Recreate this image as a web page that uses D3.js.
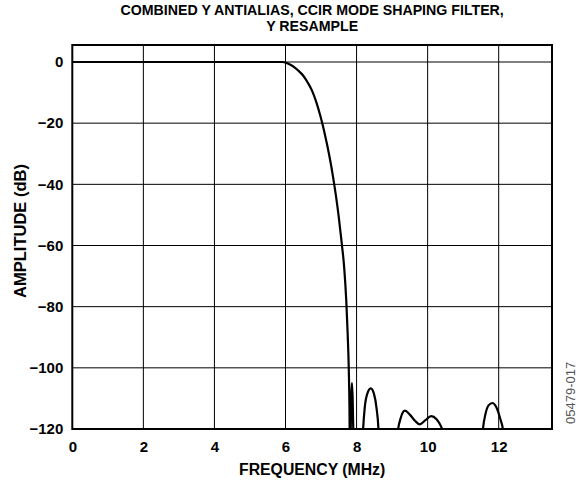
<!DOCTYPE html>
<html>
<head>
<meta charset="utf-8">
<script src="https://cdn.jsdelivr.net/npm/d3@7/dist/d3.min.js"></script>
<style>
  html, body { margin: 0; padding: 0; background: #fff; }
  svg { display: block; }
  text { font-family: "Liberation Sans", Arial, sans-serif; }
</style>
</head>
<body>
<svg id="chart" width="582" height="480"></svg>
<script>
// ---- data ----
const titleLines = ["COMBINED Y ANTIALIAS, CCIR MODE SHAPING FILTER,", "Y RESAMPLE"];
const xLabel = "FREQUENCY (MHz)";
const yLabel = "AMPLITUDE (dB)";
const sideNote = "05479-017";
const xTicks = [0, 2, 4, 6, 8, 10, 12];
const yTicks = [0, -20, -40, -60, -80, -100, -120];
const freqMHz = [
  0, 1, 2, 3, 4, 5, 5.6, 5.90, 6.05, 6.20, 6.35, 6.50, 6.62, 6.74, 6.86, 6.98, 7.08, 7.17, 7.26, 7.34,
  7.42, 7.50, 7.58, 7.65, 7.71, 7.75, 7.78, 7.80, 7.815,
  7.83, 7.85, 7.87, 7.89, 7.915, 7.93,
  8.12, 8.18, 8.23, 8.30, 8.40, 8.49, 8.56, 8.62, 8.67,
  9.10, 9.16, 9.24, 9.36, 9.50, 9.65, 9.78, 9.93, 10.10, 10.25, 10.37, 10.43, 10.48,
  11.48, 11.55, 11.63, 11.72, 11.82, 11.93, 12.04, 12.13, 12.18, 13.5
];
const amplitudeDb = [
  0, 0, 0, 0, 0, 0, 0, 0, -0.4, -1.3, -2.7, -4.5, -6.6, -9.2, -12.9, -17.6, -22.2, -27.0, -32.3, -37.7,
  -43.8, -50.8, -59.0, -67, -78, -89, -100, -113, -135,
  -125, -110, -105, -110, -125, -140,
  -140, -121, -113, -108.5, -106.7, -108.5, -113, -121, -140,
  -140, -121, -116.5, -114, -115.3, -117.4, -118.5, -117.2, -115.8, -116.8, -119, -121, -140,
  -140, -121, -115, -112.2, -111.5, -112.8, -116.5, -121, -140, -140
];

// ---- layout ----
const svg = d3.select("#chart");
const mLeft = 72.3, mRight = 552, mTop = 45, mBottom = 429;
const x = d3.scaleLinear().domain([0, 13.5]).range([mLeft, mRight]);
const y = d3.scaleLinear().domain([-120, 5.56]).range([mBottom, mTop]);

// grid
const g = svg.append("g");
g.selectAll("line.vg").data(xTicks.filter(d => d > 0)).join("line")
  .attr("x1", d => x(d)).attr("x2", d => x(d))
  .attr("y1", mTop).attr("y2", mBottom)
  .attr("stroke", "#000").attr("stroke-width", 1);
g.selectAll("line.hg").data(yTicks.filter(d => d > -120)).join("line")
  .attr("x1", mLeft).attr("x2", mRight)
  .attr("y1", d => y(d)).attr("y2", d => y(d))
  .attr("stroke", "#000").attr("stroke-width", 1);

// clip
svg.append("clipPath").attr("id", "clip").append("rect")
  .attr("x", mLeft).attr("y", mTop).attr("width", mRight - mLeft).attr("height", mBottom - mTop);

const pts = freqMHz.map((f, i) => [f, amplitudeDb[i]]);
svg.append("path")
  .attr("clip-path", "url(#clip)")
  .attr("d", d3.line().x(d => x(d[0])).y(d => y(d[1])).curve(d3.curveMonotoneX)(pts))
  .attr("fill", "none").attr("stroke", "#000").attr("stroke-width", 2.2)
  .attr("stroke-linejoin", "round");

// frame
svg.append("rect").attr("x", mLeft).attr("y", mTop).attr("width", mRight - mLeft).attr("height", mBottom - mTop)
  .attr("fill", "none").attr("stroke", "#000").attr("stroke-width", 2);

// axes via d3 axis (labels only)
const xAxis = d3.axisBottom(x).tickValues(xTicks).tickSize(0).tickPadding(12).tickFormat(d3.format("d"));
const xa = svg.append("g").attr("transform", `translate(0,${mBottom})`).call(xAxis);
xa.select(".domain").remove();
xa.selectAll("text").attr("font-size", 15).attr("font-weight", "bold").attr("fill", "#000")
  .attr("font-family", "Liberation Sans, Arial, sans-serif");

const yAxis = d3.axisLeft(y).tickValues(yTicks).tickSize(0).tickPadding(9)
  .tickFormat(d => d < 0 ? "\u2212" + Math.abs(d) : String(d));
const ya = svg.append("g").attr("transform", `translate(${mLeft},0)`).call(yAxis);
ya.select(".domain").remove();
ya.selectAll("text").attr("font-size", 15).attr("font-weight", "bold").attr("fill", "#000")
  .attr("font-family", "Liberation Sans, Arial, sans-serif");

// title (one text, two lines)
const cx = (mLeft + mRight) / 2;
const title = svg.append("text").attr("text-anchor", "middle")
  .attr("font-size", 14.2).attr("font-weight", "bold");
title.selectAll("tspan").data(titleLines).join("tspan")
  .attr("x", cx).attr("y", (d, i) => 15 + i * 16).text(d => d);

// axis titles
svg.append("text").attr("x", cx).attr("y", 475).attr("text-anchor", "middle")
  .attr("font-size", 15.8).attr("font-weight", "bold").text(xLabel);
svg.append("text").attr("transform", `translate(26,231) rotate(-90)`)
  .attr("text-anchor", "middle").attr("font-size", 16.5).attr("font-weight", "bold").text(yLabel);

// side note
svg.append("text").attr("transform", `translate(575,424) rotate(-90)`)
  .attr("text-anchor", "start").attr("font-size", 13).attr("fill", "#555").text(sideNote);
</script>
</body>
</html>
